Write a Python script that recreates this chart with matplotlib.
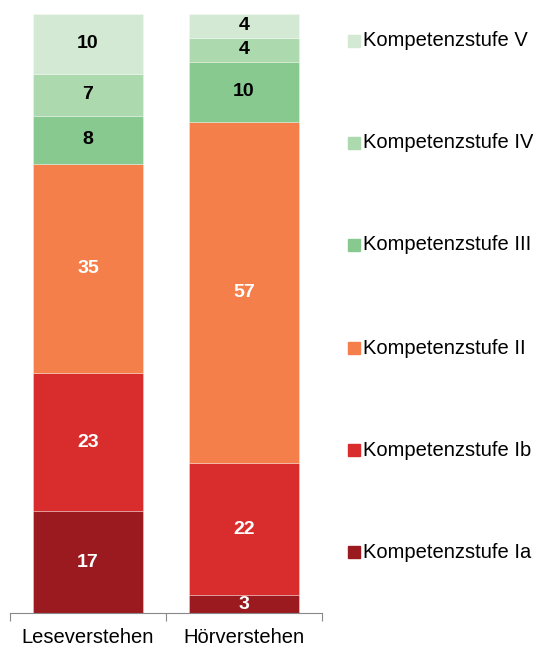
import matplotlib
matplotlib.use("Agg")
import matplotlib.pyplot as plt
from matplotlib.patches import Rectangle

plt.rcParams['font.family'] = ['Liberation Sans', 'DejaVu Sans']

categories = ["Leseverstehen", "Hörverstehen"]
levels = ["Kompetenzstufe Ia", "Kompetenzstufe Ib", "Kompetenzstufe II",
          "Kompetenzstufe III", "Kompetenzstufe IV", "Kompetenzstufe V"]
values = {
    "Kompetenzstufe Ia": [17, 3],
    "Kompetenzstufe Ib": [23, 22],
    "Kompetenzstufe II": [35, 57],
    "Kompetenzstufe III": [8, 10],
    "Kompetenzstufe IV": [7, 4],
    "Kompetenzstufe V": [10, 4],
}
colors = ["#9b1a1f", "#d92d2d", "#f47f4a", "#88c98f", "#acd9ad", "#d3e9d3"]
text_colors = ["white", "white", "white", "black", "black", "black"]

W, H = 533, 649
fig = plt.figure(figsize=(W / 100, H / 100), dpi=100)
ax = fig.add_axes([10 / W, (H - 613) / H, 312 / W, 599 / H])

x = [0, 1]
bottom = [0, 0]
for lvl, col, tc in zip(levels, colors, text_colors):
    vals = values[lvl]
    ax.bar(x, vals, width=0.705, bottom=bottom, color=col,
           edgecolor=(1, 1, 1, 0.35), linewidth=0.6)
    for xi, v, b in zip(x, vals, bottom):
        ax.text(xi, b + v / 2, str(v), ha="center", va="center",
                color=tc, fontsize=14, fontweight="bold")
    bottom = [b + v for b, v in zip(bottom, vals)]

ax.set_xlim(-0.5, 1.5)
ax.set_ylim(0, 100)
for s in ["top", "right", "left"]:
    ax.spines[s].set_visible(False)
ax.spines["bottom"].set_color("#888888")
ax.spines["bottom"].set_linewidth(0.8)
ax.set_yticks([])
ax.set_xticks([-0.5, 0.5, 1.5])
ax.set_xticklabels([])
ax.set_xticks(x, minor=True)
ax.set_xticklabels(categories, minor=True, fontsize=14.5)
ax.tick_params(axis="x", which="major", length=6, color="#888888", width=0.8)
ax.tick_params(axis="x", which="minor", length=0, pad=11)

legend_y = [41, 143, 245, 348, 450, 552]
for lvl, col, yy in zip(levels[::-1], colors[::-1], legend_y):
    fig.add_artist(Rectangle((348 / W, (H - yy - 6) / H), 12 / W, 12 / H,
                             transform=fig.transFigure, color=col))
    fig.text(363 / W, (H - yy) / H, lvl, fontsize=14.5, va="center", ha="left")

fig.savefig("out.png", dpi=100)
